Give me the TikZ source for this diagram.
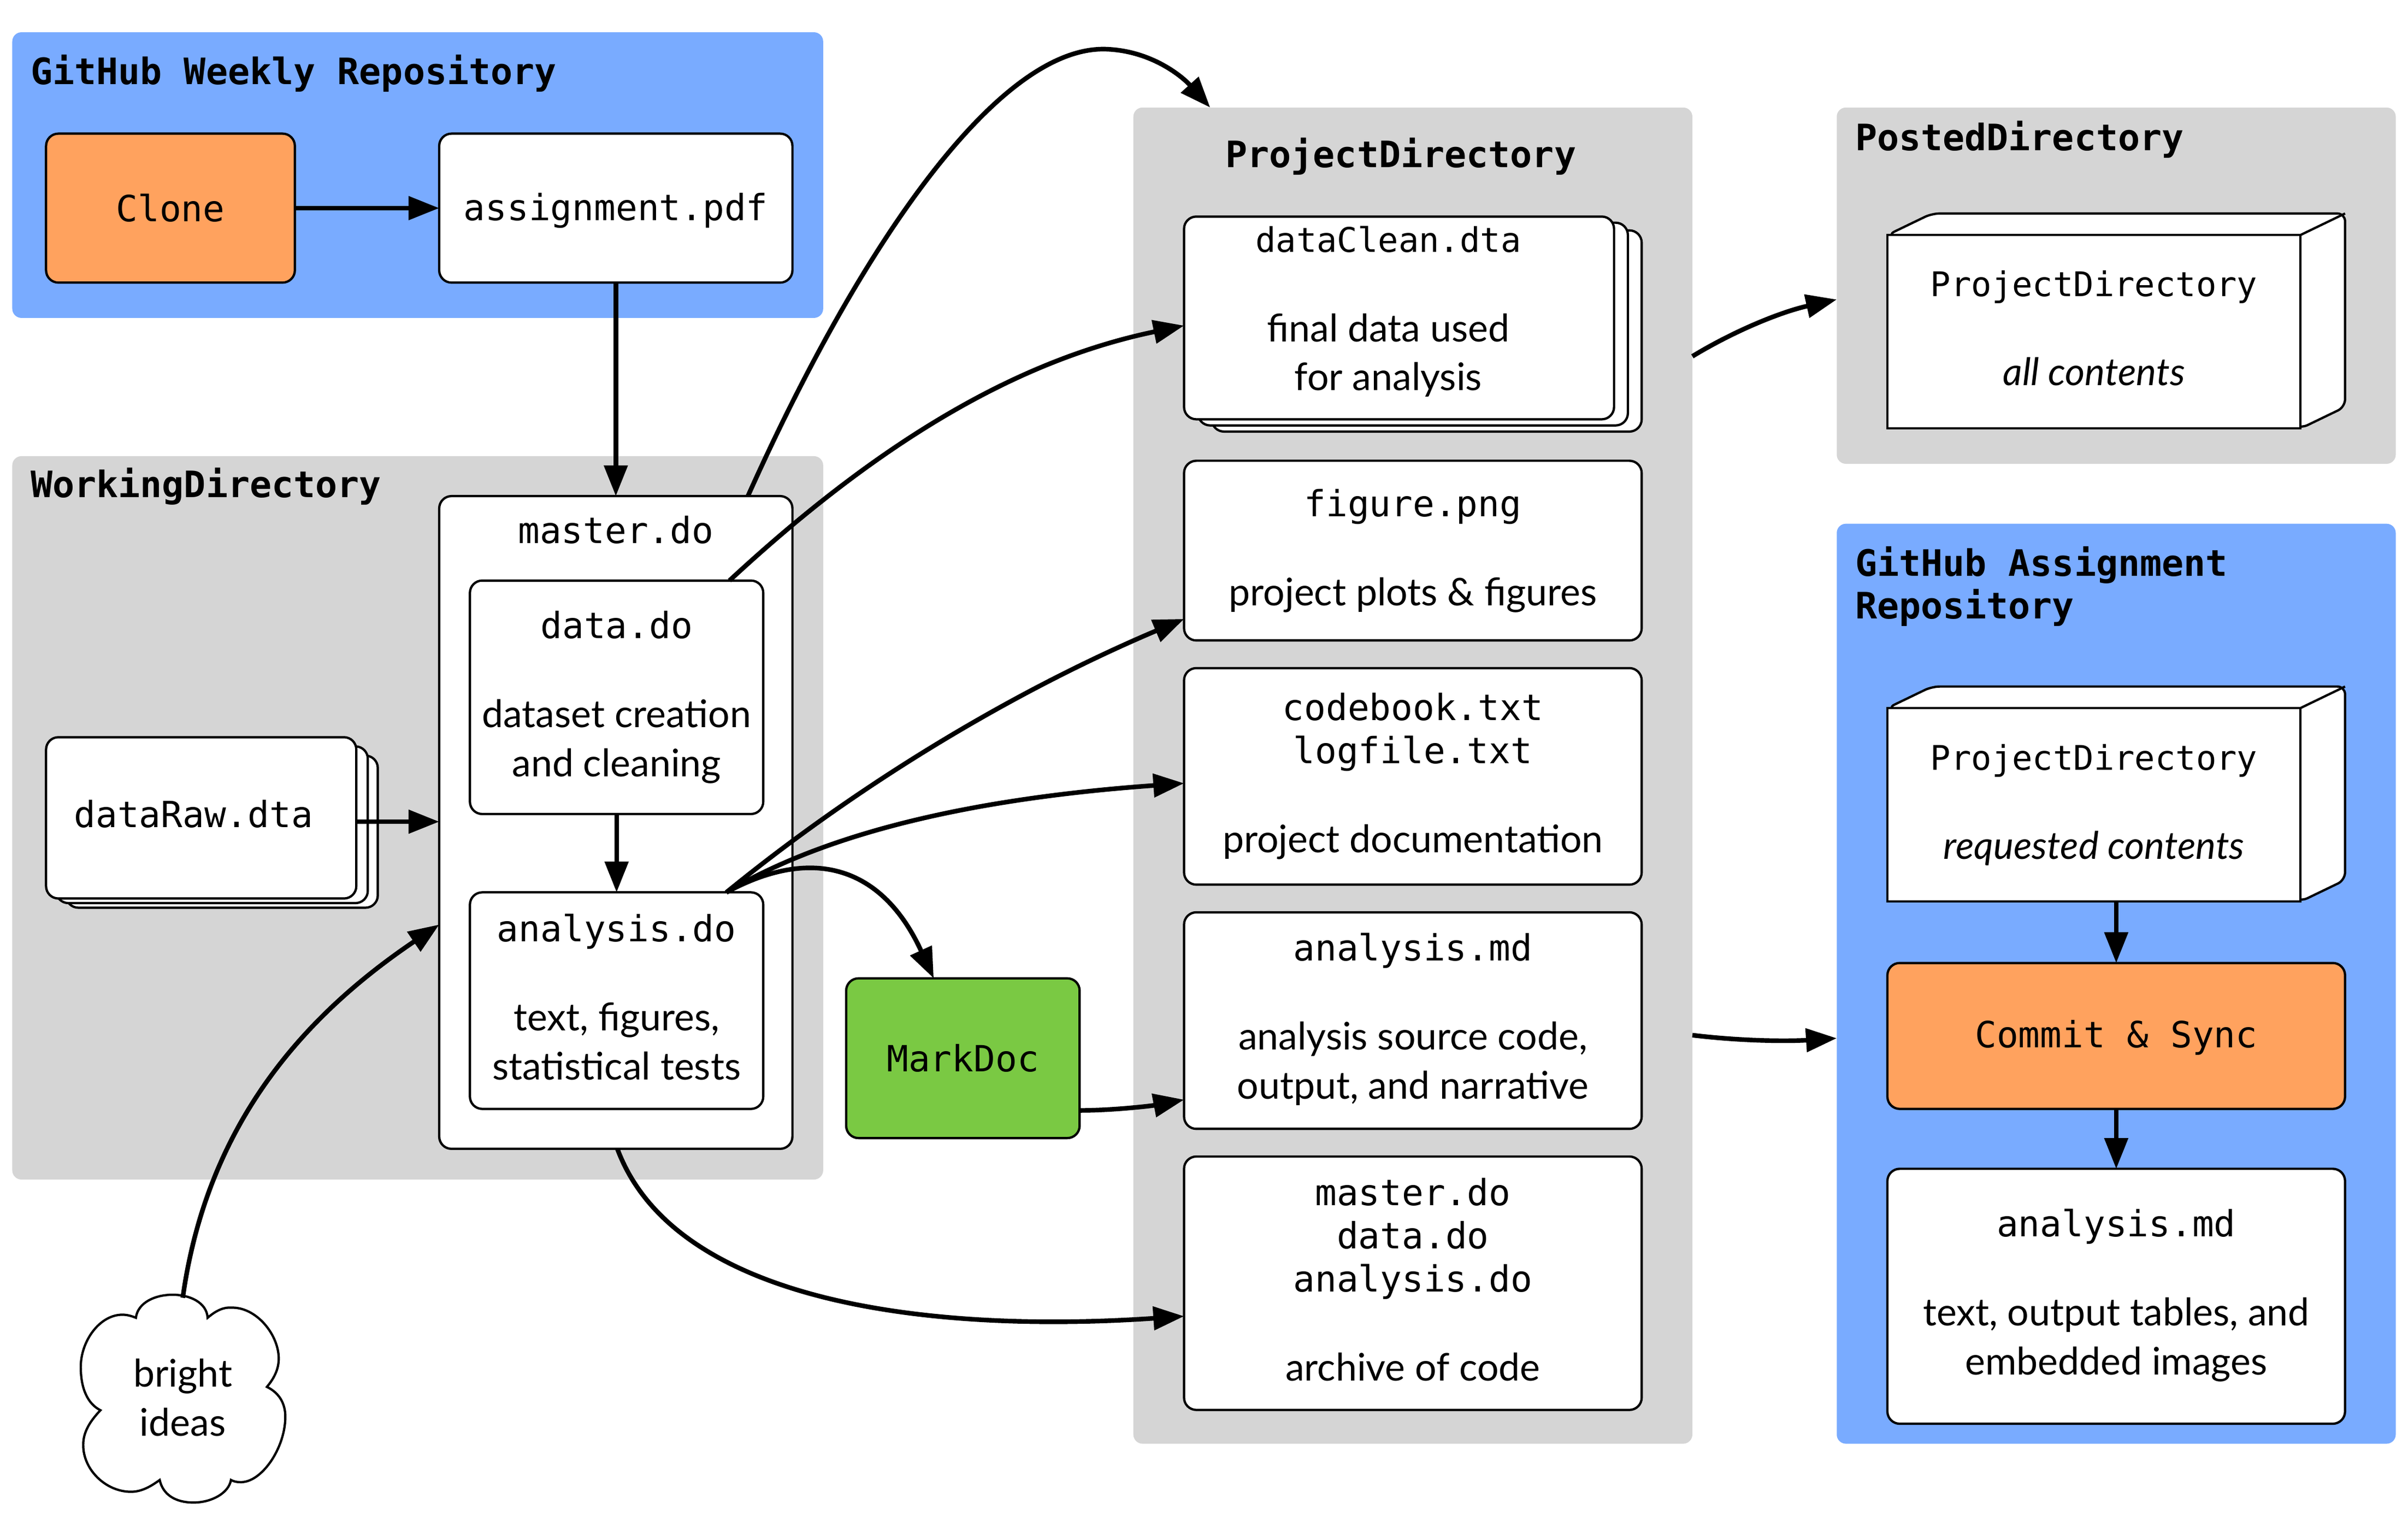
\documentclass[tikz,border=0pt]{standalone}
\usepackage{fontspec}
\setmainfont{Lato}
\newfontfamily\monof{DejaVu Sans Mono}
\usetikzlibrary{arrows.meta,calc}
\definecolor{gblue}{HTML}{79ABFF}
\definecolor{ggray}{HTML}{D5D5D5}
\definecolor{gorange}{HTML}{FFA25E}
\definecolor{ggreen}{HTML}{7AC943}
\newcommand\mono{\monof\fontsize{23.5}{28}\selectfont}
\newcommand\monosmall{\monof\fontsize{22.1}{28}\selectfont}
\newcommand\hd{\monof\bfseries\fontsize{23.7}{28}\selectfont}
\newcommand\dpt[1]{\rule[-#1pt]{0pt}{#1pt}}
\newcommand{\bx}[7]{%
  \pgfmathsetmacro\myw{#5-#3}\pgfmathsetmacro\myh{#6-#4}%
  \pgfmathsetmacro\mycx{(#5+#3)/2}\pgfmathsetmacro\mycy{(#6+#4)/2}%
  \node[#1,minimum width=\myw pt,minimum height=\myh pt] (#2) at (\mycx,\mycy) {#7};}
\tikzset{
  base/.style={outer sep=0pt,inner sep=0pt,align=center,font=\fontsize{24.8}{32}\selectfont},
  group/.style={base,rounded corners=6pt},
  card/.style={base,draw=black,fill=white,line width=1.5pt,rounded corners=8pt},
  front/.style={base,draw=black,fill=white,line width=1.5pt},
  back/.style={draw=black,fill=white,line width=1.5pt,rounded corners=8pt,line join=round},
  heading/.style={outer sep=0pt,inner sep=0pt,align=left,anchor=base west,font=\hd},
  conn/.style={line width=3pt,-{Triangle[length=20pt,width=15pt]}},
}
\begin{document}
\begin{tikzpicture}[x=1pt,y=-1pt]
\useasboundingbox (0,0) rectangle (1568,1001.7);
% groups
\bx{group,fill=gblue}{gweekly}{8}{21}{536}{207}{}
\bx{group,fill=ggray}{gwork}{8}{297}{536}{768}{}
\bx{group,fill=ggray}{gproject}{738}{70}{1102}{940}{}
\bx{group,fill=ggray}{gposted}{1196}{70}{1560}{302}{}
\bx{group,fill=gblue}{gassign}{1196}{341}{1560}{940}{}
\node[heading] (hweekly) at (20,55) {GitHub Weekly Repository};
\node[heading] (hwork) at (20,324) {WorkingDirectory};
\node[heading] (hproj) at (798,109) {ProjectDirectory};
\node[heading] (hposted) at (1208,98) {PostedDirectory};
\node[heading] (hassign) at (1208,403) {GitHub Assignment\\Repository};
% top
\bx{card,fill=gorange}{clone}{30}{87}{192}{184}{\mono Clone}
\bx{card}{assign}{286}{87}{516}{184}{\mono \raisebox{0pt}[\height][2pt]{assignment.pdf}}
% working
\bx{card}{rawc}{43}{492}{246}{591}{}
\bx{card}{rawb}{36.5}{486}{239.5}{588}{}
\bx{card}{raw}{30}{480}{232}{585}{}
\node[base,font=\mono] (rawlbl) at (126,530) {dataRaw.dta};
\bx{card}{master}{286}{323}{516}{748}{}
\node[base,font=\mono] (masterlbl) at (401,345) {master.do};
\bx{card}{data}{306}{378}{497}{530}{{\mono data.do}\\[26pt]dataset creation\\and cleaning}
\bx{card}{analysis}{306}{581}{497}{722}{{\mono analysis.do}\\[26pt]text, figures,\\statistical tests\dpt{5}}
\bx{card,fill=ggreen}{markdoc}{551}{637}{703}{741}{\mono MarkDoc}
% project
\bx{card}{cleanc}{789}{150}{1069}{281}{}
\bx{card}{cleanb}{780}{145}{1060}{277}{}
\bx{card}{clean}{771}{141}{1051}{273}{}
\node[base] (cleanlbl) at (904,203) {{\monosmall dataClean.dta}\\[26pt]final data used\\for analysis};
\bx{card}{figure}{771}{300}{1069}{417}{{\mono figure.png}\\[26pt]project plots \& figures}
\bx{card}{codebook}{771}{435}{1069}{576}{{\mono codebook.txt}\\[-4pt]{\mono logfile.txt}\\[26pt]project documentation}
\bx{card}{amd}{771}{594}{1069}{735}{{\mono analysis.md}\\[26pt]analysis source code,\\output, and narrative\dpt{6}}
\bx{card}{archive}{771}{753}{1069}{918}{{\mono master.do}\\[-4pt]{\mono data.do}\\[-4pt]{\mono analysis.do}\\[26pt]archive of code\dpt{5}}
% cuboids
\draw[back,rounded corners=5pt] (1229,153) -- (1258,139) -- (1527,139) -- (1527,265) -- (1498,279) -- cycle;
\bx{front}{cubeone}{1229}{153}{1498}{279}{{\monosmall ProjectDirectory}\\[26pt]\itshape all contents\dpt{5}}
\draw[line width=1.5pt] (cubeone.north east) -- (1527,139);
\draw[back,rounded corners=5pt] (1229,461) -- (1258,447) -- (1527,447) -- (1527,573) -- (1498,587) -- cycle;
\bx{front}{cubetwo}{1229}{461}{1498}{587}{{\monosmall ProjectDirectory}\\[26pt]\itshape requested contents}
\draw[line width=1.5pt] (cubetwo.north east) -- (1527,447);
\bx{card,fill=gorange}{commit}{1229}{627}{1527}{722}{\mono \raisebox{0pt}[\height][3pt]{Commit \& Sync}}
\bx{card}{finalmd}{1229}{761}{1527}{927}{{\mono analysis.md}\\[26pt]text, output tables, and\\embedded images\dpt{6}}
% cloud
\draw[line width=1.5pt,fill=white,line join=miter]
  (88.5,858) .. controls (91,838) and (134,838) .. (135.2,858)
  .. controls (141,853) and (146,851) .. (150.7,851.4)
  .. controls (167,851) and (181.5,869) .. (181.5,884.6)
  .. controls (181.5,892) and (178,898) .. (173.8,903)
  .. controls (182,907) and (185.8,914) .. (185.8,922.4)
  .. controls (185.8,943) and (170,966) .. (156,965)
  .. controls (154,965) and (152,964.5) .. (150.4,963.6)
  .. controls (149,972) and (138,978.3) .. (126,978.3)
  .. controls (114,978.3) and (106,973) .. (104,963.6)
  .. controls (98,968) and (92,971.3) .. (85.3,971.3)
  .. controls (69,971.3) and (54,957) .. (54.2,940.6)
  .. controls (54.2,932) and (59,925) .. (65.4,918.2)
  .. controls (57,914) and (52.6,904) .. (52.6,890)
  .. controls (52.6,873) and (65,856) .. (79.7,856)
  .. controls (83,856) and (86,857) .. (88.5,858) -- cycle;
\node[base] (cloud) at (119,910) {bright\\ideas};
\coordinate (cloudtop) at (119,845);
% connectors
\draw[conn] (clone.east) -- (assign.west);
\draw[conn] (assign.south) -- (master.north);
\draw[conn] ([yshift=-2.5pt]raw.east) -- ([yshift=0.5pt]master.west);
\draw[conn] (data.south) -- (analysis.north);
\draw[conn] ([xshift=201pt]master.north west) .. controls (560,160) and (650,30) .. (720,32) .. controls (750,33) and (770,50) .. ([xshift=50pt]gproject.north west);
\draw[conn] ([xshift=169pt]data.north west) .. controls (570,290) and (660,235) .. ([yshift=-5pt]clean.west);
\draw[conn] ([xshift=167pt]analysis.north west) .. controls (560,510) and (660,450) .. ([yshift=-44.5pt]figure.west);
\draw[conn] ([xshift=167pt]analysis.north west) .. controls (550,535) and (660,518) .. ([yshift=-4.5pt]codebook.west);
\draw[conn] ([xshift=167pt]analysis.north west) .. controls (530,550) and (575,565) .. ([xshift=57pt]markdoc.north west);
\draw[conn] ([yshift=-34pt]markdoc.east) .. controls (725,723) and (750,720) .. ([yshift=-51.5pt]amd.west);
\draw[conn] ([xshift=116pt]master.south west) .. controls (440,850) and (610,868) .. ([yshift=-21.5pt]archive.west);
\draw[conn] (cloudtop) .. controls (135,730) and (200,660) .. ([yshift=-66.5pt]master.west);
\draw[conn] ([yshift=273pt]gproject.east) .. controls (1130,215) and (1160,203) .. ([yshift=-9pt]gposted.west);
\draw[conn] ([yshift=-169pt]gproject.east) .. controls (1135,678) and (1165,678) .. ([yshift=-35.5pt]gassign.west);
\draw[conn] ([xshift=14.5pt]cubetwo.south) -- (commit.north);
\draw[conn] (commit.south) -- (finalmd.north);
\end{tikzpicture}
\end{document}
